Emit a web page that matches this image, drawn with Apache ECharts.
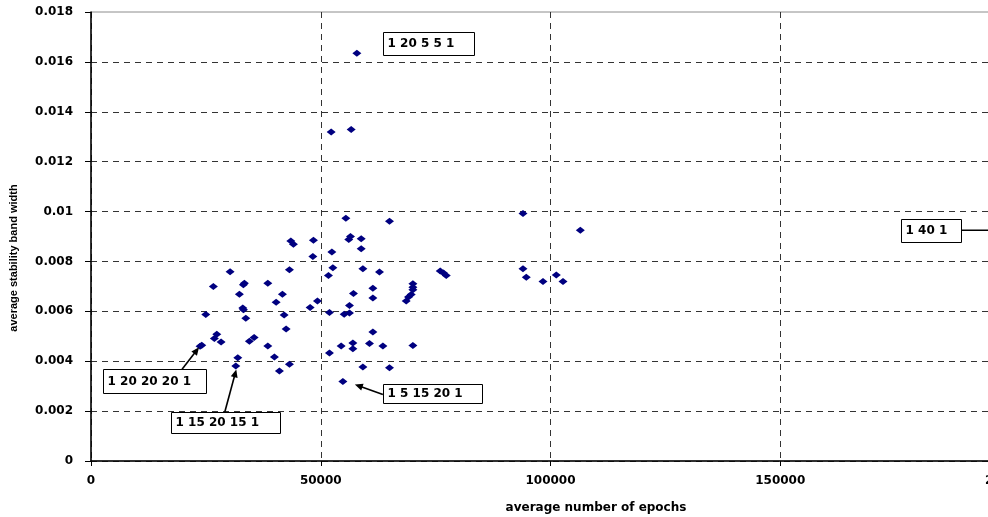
<!DOCTYPE html>
<html><head><meta charset="utf-8">
<script src="https://cdn.jsdelivr.net/npm/echarts@6/dist/echarts.min.js"></script>
<style>html,body{margin:0;padding:0;background:#fff}#c{width:988px;height:517px}</style>
</head><body><div id="c"></div>
<script>
// ---- data ----
const epochs = [
  57860, 52265, 56620, 55465, 64960, 94010, 106490,
  43490, 44055, 48410, 56470, 56100, 58800, 58800, 52420, 48280,
  43185, 30270, 52635, 51675, 59170, 62780,
  26630, 33380, 33165, 38480, 32295, 41660, 40290, 57120, 61345, 61345,
  49280, 47690, 33035, 33180, 24980, 33690, 42030, 51895, 55095, 56250, 56250,
  70055, 70055, 70055, 69685, 69100, 68600,
  76000, 76720, 77310, 94010, 94730, 98365, 101260, 102720,
  42465, 27375, 26850, 28310, 35500, 34470, 24105, 23735, 38480,
  39915, 31945, 31510, 43185, 41005, 51895, 54440, 56990, 56990, 60605,
  61345, 63525, 70055, 59170, 64960, 54815, 198000
];
const bandWidth = [
  0.01635, 0.01319, 0.01329, 0.00973, 0.00961, 0.00992, 0.00925,
  0.00882, 0.00869, 0.00885, 0.00900, 0.00888, 0.00891, 0.00851, 0.00838, 0.00820,
  0.00767, 0.00759, 0.00775, 0.00744, 0.00771, 0.00758,
  0.00700, 0.00713, 0.00707, 0.00713, 0.00668, 0.00668, 0.00636, 0.00671, 0.00693, 0.00653,
  0.00641, 0.00615, 0.00613, 0.00606, 0.00587, 0.00572, 0.00585, 0.00595, 0.00588, 0.00593, 0.00623,
  0.00711, 0.00697, 0.00687, 0.00667, 0.00657, 0.00641,
  0.00762, 0.00754, 0.00744, 0.00771, 0.00737, 0.00720, 0.00746, 0.00720,
  0.00529, 0.00508, 0.00491, 0.00477, 0.00495, 0.00480, 0.00464, 0.00460, 0.00461,
  0.00417, 0.00414, 0.00381, 0.00388, 0.00361, 0.00433, 0.00461, 0.00473, 0.00450, 0.00471,
  0.00517, 0.00461, 0.00463, 0.00377, 0.00374, 0.00319, 0.00925
];
const xTickLabels = ['0', '50000', '100000', '150000', '200000'];
const yTickLabels = ['0', '0.002', '0.004', '0.006', '0.008', '0.01', '0.012', '0.014', '0.016', '0.018'];
const annotationTexts = ['1 20 5 5 1', '1 20 20 20 1', '1 15 20 15 1', '1 5 15 20 1', '1 40 1'];
const annotationPoint = [0, 64, 68, 81, 82];

// ---- annotation layout (pixel offsets from the target point) ----
const annotationBox = [
  [26, -21, 91, 23],
  [-97, 23, 103, 24],
  [-65, 46, 109, 21],
  [40, 3, 99, 19],
  [-100, -11.5, 60, 23]
];
const annotationArrow = [
  null,
  [-18, 23, -1, 1],
  [-11, 46, 0.5, 3.5],
  [40, 13, 12, 3],
  [-40, 0, 0, 0]
];

const FONT = 'DejaVu Sans';
const chart = echarts.init(document.getElementById('c'), null, {renderer: 'canvas'});
const points = epochs.map((x, i) => [x, bandWidth[i]]);

const splitColorsY = yTickLabels.map((t, i) => i === yTickLabels.length - 1 ? 'rgba(0,0,0,0)' : '#333');

chart.setOption({
  animation: false,
  backgroundColor: '#fff',
  grid: {left: 91, top: 12, width: 919, height: 449, show: true, borderColor: '#8c8c8c', borderWidth: 1,
    containLabel: false, outerBoundsMode: 'none'},
  xAxis: {
    type: 'value', min: 0, max: 200000, interval: 50000,
    name: 'average number of epochs', nameLocation: 'middle', nameGap: 41,
    nameTextStyle: {fontFamily: FONT, fontWeight: 'bold', fontSize: 12, color: '#000', padding: [0, 0, 0, 91]},
    axisLine: {show: true, lineStyle: {color: '#000', width: 1.5}},
    axisTick: {show: true, inside: false, length: 5, lineStyle: {color: '#000'}},
    axisLabel: {margin: 14, fontFamily: FONT, fontWeight: 'bold', fontSize: 12, color: '#000',
      hideOverlap: false, showMaxLabel: true,
      formatter: (v) => xTickLabels[Math.round(v / 50000)] || ''},
    splitLine: {show: true, lineStyle: {color: '#333', type: [6, 5], width: 1}}
  },
  yAxis: {
    type: 'value', min: 0, max: 0.018, interval: 0.002,
    name: 'average stability band width', nameLocation: 'middle', nameGap: 72,
    nameTextStyle: {fontFamily: 'Liberation Sans', fontWeight: 'bold', fontSize: 11, color: '#000', padding: [0, 43, 0, 0]},
    axisLine: {show: true, lineStyle: {color: '#000', width: 1.5}},
    axisTick: {show: true, inside: false, length: 6, lineStyle: {color: '#000'}},
    axisLabel: {margin: 18, fontFamily: FONT, fontWeight: 'bold', fontSize: 12, color: '#000',
      formatter: (v) => yTickLabels[Math.round(v / 0.002)] || ''},
    splitLine: {show: true, lineStyle: {color: splitColorsY, type: [6, 5], width: 1}}
  },
  series: [{
    type: 'scatter',
    data: points,
    symbol: 'diamond',
    symbolSize: [9, 7],
    itemStyle: {color: '#000080', opacity: 1},
    clip: true
  }]
});

function buildAnnotations() {
  const els = [];
  annotationTexts.forEach((txt, k) => {
    const p = chart.convertToPixel({xAxisIndex: 0, yAxisIndex: 0}, points[annotationPoint[k]]);
    const b = annotationBox[k];
    const bx = Math.round(p[0] + b[0]) + 0.5, by = Math.round(p[1] + b[1]) + 0.5;
    const a = annotationArrow[k];
    if (a) {
      const x1 = p[0] + a[0], y1 = p[1] + a[1], x2 = p[0] + a[2], y2 = p[1] + a[3];
      const dx = x2 - x1, dy = y2 - y1, len = Math.sqrt(dx * dx + dy * dy) || 1;
      const ux = dx / len, uy = dy / len;
      const hl = 8, hw = 3.5;
      const bxp = x2 - ux * hl, byp = y2 - uy * hl;
      els.push({type: 'line', z: 100, shape: {x1: x1, y1: y1, x2: bxp + ux * 2, y2: byp + uy * 2},
        style: {stroke: '#000', lineWidth: 1.6}});
      els.push({type: 'polygon', z: 100, shape: {points: [[x2, y2], [bxp - uy * hw, byp + ux * hw], [bxp + uy * hw, byp - ux * hw]]},
        style: {fill: '#000'}});
    }
    els.push({type: 'rect', z: 101, shape: {x: bx, y: by, width: b[2], height: b[3]},
      style: {fill: '#fff', stroke: '#000', lineWidth: 1}});
    els.push({type: 'text', z: 102, x: bx + 4, y: by + b[3] / 2,
      style: {text: txt, fill: '#000', font: 'bold 12px "' + FONT + '"',
        textAlign: 'left', textVerticalAlign: 'middle', align: 'left', verticalAlign: 'middle'}});
  });
  chart.setOption({graphic: els});
}
buildAnnotations();
</script>
</body></html>
